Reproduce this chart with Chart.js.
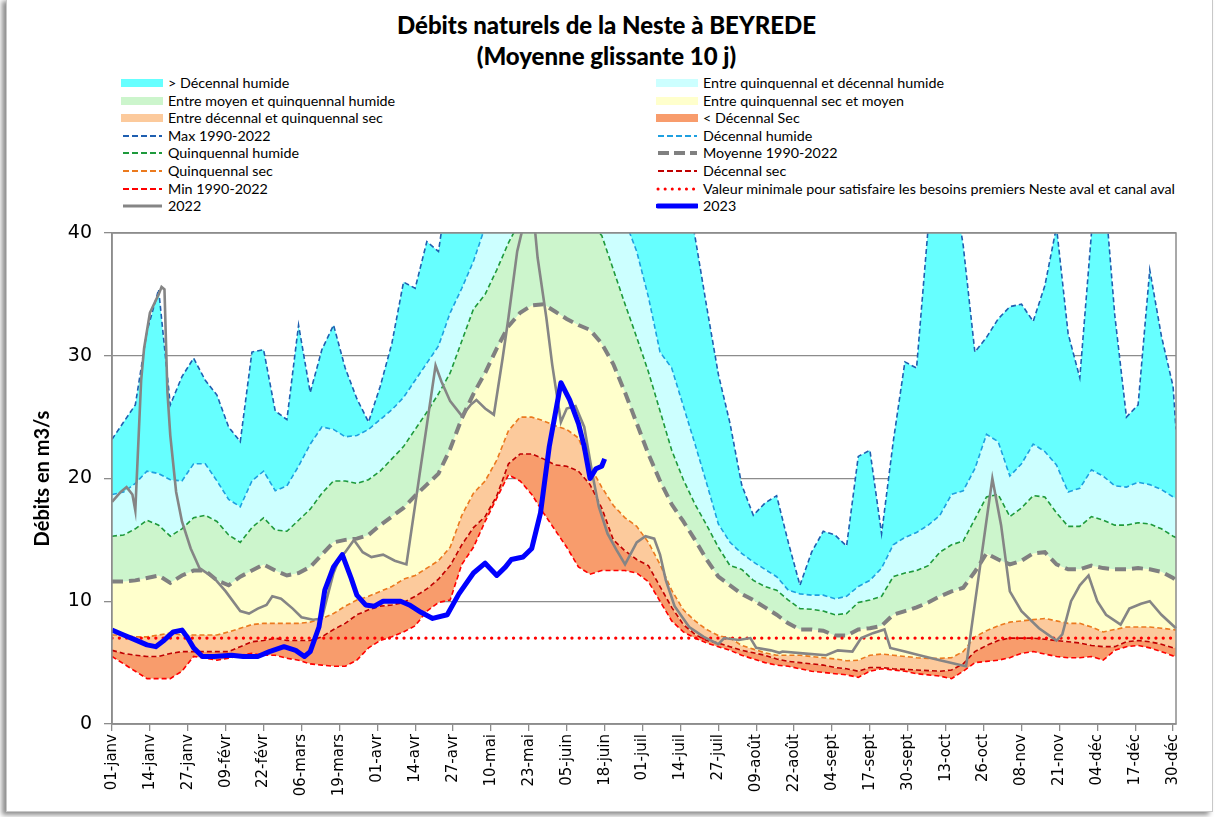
<!DOCTYPE html>
<html>
<head>
<meta charset="utf-8">
<script src="https://cdn.jsdelivr.net/npm/chart.js@4.4.1/dist/chart.umd.min.js"></script>
<style>
  body { margin: 0; width: 1223px; height: 817px; position: relative; overflow: hidden; background: #fff; }
  #frame { position: absolute; left: 6px; top: -2px; width: 1205px; height: 812px; border: 1px solid #c8c8c8; box-shadow: -4px 3px 5px rgba(0,0,0,0.45); background: #fff; }
  #title { position: absolute; left: 0; top: 9px; width: 1213px; text-align: center; font-family: Lato, sans-serif; font-weight: 900; font-size: 24px; line-height: 31px; color: #000; }
  .leg { position: absolute; font-family: Lato, sans-serif; font-size: 14.3px; color: #000; white-space: nowrap; line-height: 16px; }
  .leg svg { position: absolute; top: 2px; }
  #wrap { position: absolute; left: 0; top: 0; }
</style>
</head>
<body>
<div id="frame"></div>
<div id="title">Débits naturels de la Neste à BEYREDE<br>(Moyenne glissante 10 j)</div>
<div id="legend"></div>
<div id="wrap"><canvas id="c" width="1223" height="817"></canvas></div>
<script>
// x = day of year (leap year axis, 0 = 1 janv)
const tickDays = [0, 13, 26, 39, 52, 65, 78, 91, 104, 117, 130, 143, 156, 169, 182, 195, 208, 221, 234, 247, 260, 273, 286, 299, 312, 325, 338, 351, 364];
const tickLabels = ["01-janv", "14-janv", "27-janv", "09-févr", "22-févr", "06-mars", "19-mars", "01-avr", "14-avr", "27-avr", "10-mai", "23-mai", "05-juin", "18-juin", "01-juil", "14-juil", "27-juil", "09-août", "22-août", "04-sept", "17-sept", "30-sept", "13-oct", "26-oct", "08-nov", "21-nov", "04-déc", "17-déc", "30-déc"];

const statDays = [0, 4, 8, 12, 16, 20, 24, 28, 32, 36, 40, 44, 48, 52, 56, 60, 64, 68, 72, 76, 80, 84, 88, 92, 96, 100, 104, 108, 112, 116, 120, 124, 128, 132, 136, 140, 144, 148, 152, 156, 160, 164, 168, 172, 176, 180, 184, 188, 192, 196, 200, 204, 208, 212, 216, 220, 224, 228, 232, 236, 240, 244, 248, 252, 256, 260, 264, 268, 272, 276, 280, 284, 288, 292, 296, 300, 304, 308, 312, 316, 320, 324, 328, 332, 336, 340, 344, 348, 352, 356, 360, 364, 365];

const minFlow = [5.5, 4.9, 4.3, 3.7, 3.7, 3.7, 4.3, 5.5, 5.35, 5.2,
  5.35, 5.6, 5.75, 5.6, 5.6, 5.35, 5.2, 4.9, 4.8, 4.7,
  4.7, 5.2, 6.2, 6.8, 7.1, 7.5, 8.0, 9.2, 9.9, 10.1,
  13.0, 14.4, 16.5, 18.4, 20.3, 19.8, 18.7, 17.2, 15.8, 14.4,
  12.8, 12.2, 12.5, 12.5, 12.5, 12.3, 11.6, 10.0, 8.4, 7.5,
  7.0, 6.6, 6.3, 6.0, 5.6, 5.3, 5.0, 4.8, 4.7, 4.5,
  4.3, 4.2, 4.1, 4.0, 3.8, 4.3, 4.5, 4.4, 4.3, 4.1,
  4.0, 3.9, 3.7, 4.3, 5.0, 5.1, 5.2, 5.4, 5.75, 5.9,
  5.7, 5.5, 5.4, 5.4, 5.5, 5.2, 6.0, 6.3, 6.4, 6.2,
  5.9, 5.55, 5.5];
const decSec = [6.0, 5.75, 5.6, 5.5, 5.5, 5.75, 5.9, 5.9, 5.9, 5.9,
  5.9, 6.3, 6.7, 6.8, 7.0, 6.8, 6.8, 6.8, 7.1, 7.7,
  8.2, 8.9, 9.3, 9.6, 9.7, 9.9, 10.4, 11.0, 11.8, 12.9,
  14.6, 16.0, 16.9, 18.6, 21.2, 22.0, 22.0, 21.6, 21.1, 21.0,
  20.6, 19.5, 17.6, 15.0, 14.1, 13.4, 12.9, 11.2, 9.5, 8.1,
  7.3, 6.8, 6.6, 6.3, 6.0, 5.8, 5.6, 5.3, 5.1, 5.0,
  4.9, 4.8, 4.6, 4.5, 4.3, 4.6, 4.6, 4.5, 4.45, 4.4,
  4.35, 4.3, 4.4, 4.9, 5.9, 6.4, 6.8, 7.0, 7.0, 7.0,
  6.9, 6.8, 6.7, 6.6, 6.4, 6.3, 6.3, 6.7, 6.8, 6.7,
  6.5, 6.2, 6.2];
const quinSec = [7.25, 7.25, 7.1, 7.1, 7.25, 7.4, 7.25, 7.25, 7.25, 7.25,
  7.5, 7.8, 8.1, 8.2, 8.2, 8.2, 8.2, 8.3, 8.6, 9.0,
  9.6, 10.1, 10.4, 10.8, 11.2, 11.8, 12.1, 12.7, 13.3, 14.4,
  17.0, 18.8, 19.8, 21.5, 23.9, 25.0, 25.0, 24.7, 24.3, 24.0,
  23.3, 21.0, 19.3, 17.8, 16.8, 16.1, 14.8, 13.0, 10.9, 9.3,
  8.4, 7.7, 7.2, 7.0, 6.4, 6.1, 5.8, 5.6, 5.6, 5.6,
  5.5, 5.4, 5.3, 5.15, 5.2, 5.6, 5.7, 5.6, 5.5, 5.4,
  5.35, 5.35, 5.4, 5.9, 7.1, 7.6, 8.0, 8.3, 8.4, 8.5,
  8.6, 8.4, 8.2, 8.2, 7.9, 7.5, 7.7, 7.9, 7.9, 7.9,
  7.8, 7.7, 7.65];
const moyenne = [11.6, 11.6, 11.7, 11.9, 12.1, 11.5, 12.1, 12.5, 12.5, 11.7,
  11.3, 12.0, 12.5, 13.0, 12.5, 12.1, 12.3, 12.8, 13.8, 14.8,
  15.0, 15.1, 15.4, 16.2, 16.9, 17.6, 18.6, 19.5, 20.4, 22.4,
  24.9, 26.9, 28.6, 30.6, 32.4, 33.5, 34.1, 34.2, 33.6, 33.0,
  32.5, 32.1, 31.0, 29.3, 27.0, 24.5, 22.0, 19.8, 17.9, 16.5,
  15.0, 13.4, 12.0, 11.3, 10.6, 10.1, 9.5, 8.9, 8.2, 7.7,
  7.7, 7.6, 7.2, 7.2, 7.7, 7.8, 8.0, 8.9, 9.2, 9.5,
  9.9, 10.4, 10.8, 11.1, 12.4, 13.9, 13.4, 13.0, 13.3, 13.9,
  14.0, 13.0, 12.6, 12.6, 12.9, 12.7, 12.6, 12.6, 12.7, 12.6,
  12.4, 11.9, 11.7];
const quinHum = [15.3, 15.4, 15.9, 16.6, 16.2, 15.3, 15.9, 16.8, 17.0, 16.5,
  15.4, 14.8, 16.0, 16.8, 15.8, 15.7, 16.6, 17.5, 18.8, 19.8,
  19.8, 19.6, 19.9, 20.6, 21.6, 22.6, 24.0, 25.4, 26.9, 28.6,
  31.2, 33.8, 35.0, 37.0, 39.2, 41, 42, 42, 42, 42,
  41.5, 40.7, 39.8, 37.0, 34.2, 31.5, 28.7, 25.5, 22.3, 19.9,
  17.9, 16.2, 14.4, 12.9, 12.6, 11.7, 11.2, 10.9, 10.1, 9.4,
  9.35, 9.2, 8.9, 9.0, 9.9, 10.1, 10.4, 12.0, 12.3, 12.5,
  12.9, 14.0, 14.6, 14.9, 16.7, 18.5, 18.7, 16.9, 17.6, 18.6,
  18.5, 17.2, 16.1, 16.1, 16.9, 16.6, 16.2, 16.2, 16.4, 16.3,
  15.9, 15.3, 15.2];
const decHum = [18.7, 18.9, 19.6, 20.6, 20.4, 19.9, 19.8, 21.2, 21.2, 19.8,
  18.3, 17.7, 19.8, 20.6, 19.0, 19.4, 21.0, 22.8, 24.2, 24.0,
  23.4, 23.5, 24.0, 24.8, 25.6, 26.6, 28.0, 29.4, 30.8, 33.5,
  35.5, 37.7, 40.5, 44, 44, 44, 44, 44, 44, 44,
  44, 44, 44, 44, 41, 38.5, 34.8, 30.3, 29.0, 25.9,
  22.8, 19.6, 16.3, 14.8, 13.9, 13.2, 12.6, 12.0, 10.9, 10.6,
  10.5, 10.5, 10.2, 10.4, 11.2, 11.7, 12.7, 14.6, 15.2, 15.6,
  16.2, 17.0, 18.7, 19.0, 20.8, 23.6, 23.0, 20.2, 21.2, 22.8,
  22.2, 21.1, 18.9, 19.2, 20.7, 20.2, 19.4, 19.3, 19.7, 19.5,
  19.1, 18.5, 18.4];
const maxFlow = [23.2, 24.6, 26.0, 32.0, 35.4, 26.0, 28.3, 29.8, 28.0, 26.8,
  24.2, 23.0, 30.3, 30.5, 25.5, 24.8, 32.5, 27.0, 30.5, 32.5,
  29.0, 26.5, 24.6, 27.5, 31.0, 36.0, 35.5, 39.3, 38.5, 45,
  45, 45, 45, 45, 45, 45, 45, 45, 45, 45,
  45, 45, 45, 45, 45, 45, 45, 45, 45, 45,
  39.7, 34.0, 28.5, 24.5, 19.5, 17.0, 18.0, 18.6, 14.8, 11.3,
  14.0, 15.7, 15.4, 14.5, 21.8, 22.3, 15.5, 23.0, 29.5, 29.0,
  40.5, 45, 45, 39.0, 30.3, 31.5, 33.0, 34.0, 34.2, 32.8,
  35.7, 40.5, 31.8, 28.2, 40.0, 45, 33.3, 25.0, 26.0, 37.0,
  31.6, 27.5, 24.0];

const days2022 = [0, 3, 5, 7, 8, 10, 11, 13, 16, 17, 18, 19, 20, 22, 24, 27, 30, 35, 39, 44, 47, 50, 53, 55, 58, 62, 65, 69, 72, 74, 76, 78, 80, 83, 86, 89, 93, 97, 101, 111, 113, 116, 120, 123, 125, 128, 131, 134, 136, 139, 141, 143, 145, 146, 149, 151, 154, 156, 159, 162, 165, 167, 170, 173, 176, 180, 183, 186, 188, 190, 193, 198, 203, 208, 210, 215, 219, 221, 226, 229, 230, 237, 245, 249, 254, 257, 261, 265, 267, 272, 277, 284, 291, 293, 302, 305, 308, 312, 318, 324, 326, 329, 332, 335, 338, 341, 346, 349, 353, 356, 360, 365];
const flow2022 = [18.1, 18.9, 19.3, 18.7, 17.4, 28.0, 30.6, 33.5, 35.0, 35.6, 35.4, 27.1, 23.5, 18.9, 16.5, 14.3, 12.7, 11.9, 10.8, 9.2, 9.0, 9.4, 9.7, 10.4, 10.2, 9.4, 8.7, 8.5, 8.6, 10.5, 12.3, 13.5, 14.0, 15.0, 14.0, 13.6, 13.8, 13.3, 13.0, 29.2, 27.9, 26.3, 25.1, 26.0, 26.4, 25.7, 25.2, 29.8, 33.1, 38.5, 40.5, 41.5, 40.5, 38.0, 33.1, 29.3, 24.6, 25.7, 25.9, 24.2, 20.1, 17.7, 15.5, 14.2, 13.0, 14.8, 15.3, 15.1, 13.8, 11.7, 9.6, 7.9, 7.1, 6.5, 7.0, 6.85, 7.0, 6.2, 6.0, 5.8, 5.9, 5.75, 5.6, 6.0, 5.9, 7.0, 7.4, 7.7, 6.2, 5.9, 5.6, 5.2, 4.8, 4.7, 20.0, 16.2, 10.8, 9.2, 7.8, 6.8, 7.3, 10.0, 11.3, 12.1, 10.0, 8.9, 8.1, 9.4, 9.8, 10.0, 8.9, 7.8];

const days2023 = [0, 4, 8, 12, 15, 18, 21, 24, 26, 28, 31, 35, 41, 45, 50, 54, 59, 63, 66, 68, 71, 73, 76, 79, 82, 84, 87, 90, 93, 97, 99, 102, 106, 110, 115, 119, 124, 128, 132, 135, 137, 141, 144, 147, 150, 154, 157, 160, 162, 164, 166, 168, 169];
const flow2023 = [7.65, 7.25, 6.85, 6.45, 6.3, 6.85, 7.5, 7.65, 7.0, 6.2, 5.5, 5.5, 5.6, 5.5, 5.5, 5.9, 6.3, 6.0, 5.5, 5.9, 7.9, 10.9, 12.8, 13.8, 11.9, 10.5, 9.7, 9.6, 10.0, 10.0, 10.0, 9.7, 9.1, 8.6, 8.9, 10.6, 12.3, 13.1, 12.1, 12.8, 13.4, 13.6, 14.3, 17.2, 22.6, 27.8, 26.4, 24.5, 22.6, 20.0, 20.8, 21.0, 21.6];

const seuilDays = [0, 365];
const seuilFlow = [7.0, 7.0];

const C = {
  cyan: "#66ffff", lightCyan: "#ccffff", green: "#ccf5cc", yellow: "#ffffcc",
  lightOrange: "#fcca9c", salmon: "#f89c6c",
  max: "#1f5fb0", decHum: "#1ea0e0", quinHum: "#1e9a3c", moy: "#808080",
  quinSec: "#eb7a1e", decSec: "#c00000", min: "#ff0000", y2022: "#858585", y2023: "#0000ff"
};

const pts = (xs, ys) => xs.map((x, i) => ({ x: x, y: ys[i] }));

const statLine = (label, data, color, fill, bg, width, dash) => ({
  label: label,
  data: pts(statDays, data),
  borderColor: color,
  borderWidth: width || 1.6,
  borderDash: dash || [5, 3],
  fill: fill,
  backgroundColor: bg || "transparent",
  pointRadius: 0,
  clip: 0
});

const datasets = [
  { label: "2023", data: pts(days2023, flow2023), borderColor: C.y2023, borderWidth: 5, pointRadius: 0, fill: false, borderJoinStyle: "round" },
  { label: "2022", data: pts(days2022, flow2022), borderColor: C.y2022, borderWidth: 2.6, pointRadius: 0, fill: false, clip: 1 },
  { label: "Valeur minimale", data: pts(seuilDays, seuilFlow), borderColor: C.min, borderWidth: 3.2, borderDash: [0.1, 7.2], borderCapStyle: "round", pointRadius: 0, fill: false },
  statLine("Max 1990-2022", maxFlow, C.max, 4, C.cyan),
  statLine("Décennal humide", decHum, C.decHum, 5, C.lightCyan),
  statLine("Quinquennal humide", quinHum, C.quinHum, 6, C.green),
  statLine("Moyenne 1990-2022", moyenne, C.moy, 7, C.yellow, 4, [11, 6]),
  statLine("Quinquennal sec", quinSec, C.quinSec, 8, C.lightOrange),
  statLine("Décennal sec", decSec, C.decSec, 9, C.salmon),
  statLine("Min 1990-2022", minFlow, C.min, false)
];

const frameBox = {
  id: "frameBox",
  afterDatasetsDraw(chart) {
    const a = chart.chartArea;
    const ctx = chart.ctx;
    ctx.save();
    ctx.strokeStyle = "#8c8c8c";
    ctx.lineWidth = 1.5;
    ctx.strokeRect(a.left, a.top, a.right - a.left, a.bottom - a.top);
    ctx.restore();
  }
};

new Chart(document.getElementById("c").getContext("2d"), {
  type: "line",
  data: { datasets: datasets },
  plugins: [frameBox],
  options: {
    responsive: false,
    animation: false,
    layout: { padding: { top: 233, right: 47, left: 0, bottom: 0 } },
    plugins: {
      legend: { display: false },
      tooltip: { enabled: false },
      filler: { drawTime: "beforeDatasetsDraw" }
    },
    elements: { line: { tension: 0 } },
    scales: {
      x: {
        type: "linear",
        min: 0,
        max: 365,
        afterBuildTicks: (s) => { s.ticks = tickDays.map((v) => ({ value: v })); },
        afterFit: (s) => { s.height = 93; },
        ticks: {
          autoSkip: false,
          maxRotation: 90,
          minRotation: 90,
          padding: 3,
          color: "#000",
          font: { family: "DejaVu Sans", size: 15 },
          callback: (v, i) => tickLabels[i]
        },
        grid: { drawOnChartArea: false, drawTicks: true, tickLength: 7, color: "#8c8c8c", lineWidth: 1.3 },
        border: { color: "#8c8c8c", width: 1.5 }
      },
      y: {
        min: 0,
        max: 40,
        afterFit: (s) => { s.width = 112; },
        ticks: { stepSize: 10, padding: 12, color: "#000", font: { family: "DejaVu Sans", size: 19 } },
        grid: { color: "#8c8c8c", lineWidth: 1.3, tickLength: 8 },
        border: { color: "#8c8c8c", width: 1.5 },
        title: {
          display: true,
          text: "Débits en m3/s",
          color: "#000",
          font: { family: "Lato", weight: "bold", size: 20 },
          padding: { top: 31 }
        }
      }
    }
  }
});

// legend, two columns as in the original sheet
const legendItems = [
  ["band", C.cyan, "> Décennal humide"],
  ["band", C.lightCyan, "Entre quinquennal et décennal humide"],
  ["band", C.green, "Entre moyen et quinquennal humide"],
  ["band", C.yellow, "Entre quinquennal sec et moyen"],
  ["band", C.lightOrange, "Entre décennal et quinquennal sec"],
  ["band", C.salmon, "< Décennal Sec"],
  ["dash", C.max, "Max 1990-2022"],
  ["dash", C.decHum, "Décennal humide"],
  ["dash", C.quinHum, "Quinquennal humide"],
  ["bigdash", C.moy, "Moyenne 1990-2022"],
  ["dash", C.quinSec, "Quinquennal sec"],
  ["dash", C.decSec, "Décennal sec"],
  ["dash", C.min, "Min 1990-2022"],
  ["dot", C.min, "Valeur minimale pour satisfaire les besoins premiers Neste aval et canal aval"],
  ["solid", C.y2022, "2022"],
  ["thick", C.y2023, "2023"]
];

const swatch = (type, color) => {
  const w = 42;
  if (type === "band") return `<svg width="${w}" height="12"><rect x="0" y="2" width="${w}" height="8" fill="${color}"/></svg>`;
  let attrs = `stroke="${color}" stroke-width="2" stroke-dasharray="6 3"`;
  if (type === "bigdash") attrs = `stroke="${color}" stroke-width="4" stroke-dasharray="11 5"`;
  if (type === "dot") attrs = `stroke="${color}" stroke-width="3" stroke-linecap="round" stroke-dasharray="0.1 7"`;
  if (type === "solid") attrs = `stroke="${color}" stroke-width="3"`;
  if (type === "thick") attrs = `stroke="${color}" stroke-width="5" stroke-linecap="round"`;
  return `<svg width="${w}" height="12"><line x1="2" y1="6" x2="${w - 1}" y2="6" ${attrs}/></svg>`;
};

const legendEl = document.getElementById("legend");
legendItems.forEach((it, i) => {
  const col = i % 2;
  const row = Math.floor(i / 2);
  const el = document.createElement("div");
  el.className = "leg";
  el.style.left = (col === 0 ? 121 : 656) + "px";
  el.style.top = (75 + row * 17.6) + "px";
  el.innerHTML = swatch(it[0], it[1]) + `<span style="margin-left:47px">${it[2]}</span>`;
  legendEl.appendChild(el);
});
</script>
</body>
</html>
